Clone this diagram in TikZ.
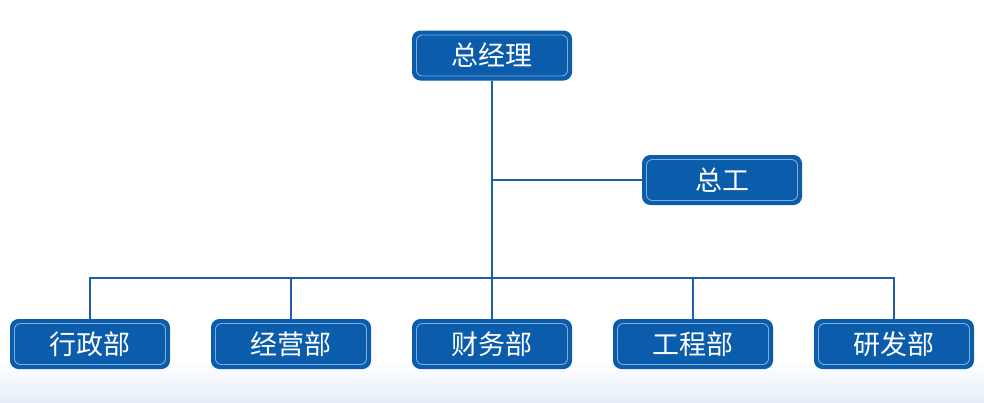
\documentclass[tikz,border=0pt]{standalone}
\usepackage{fontspec}
\newfontfamily\cjk{Noto Sans CJK SC}
\usetikzlibrary{calc}
\definecolor{boxblue}{HTML}{0B5CAB}
\definecolor{innerline}{HTML}{7FAEDC}
\definecolor{linkblue}{HTML}{1C5FA8}
\definecolor{bgblue}{HTML}{E6EFF9}
\tikzset{
  orgbox/.style={draw=boxblue, line width=1pt, fill=boxblue, rounded corners=8pt,
    minimum width=159pt, minimum height=49pt, inner sep=0pt, text=white,
    font=\cjk\fontsize{27}{27}\selectfont},
  innerframe/.style={draw=innerline, line width=0.9pt, rounded corners=6pt},
  link/.style={draw=linkblue, line width=1.6pt}
}
\begin{document}
\begin{tikzpicture}[x=1pt,y=-1pt]
\useasboundingbox (0,0) rectangle (984,402);
\shade[top color=white, bottom color=bgblue] (0,360) rectangle (984,402);
\node[orgbox] (gm) at (492,55.5) {总经理};
\node[orgbox] (zg) at (722,180) {总工};
\node[orgbox] (d1) at (90,344) {行政部};
\node[orgbox] (d2) at (291,344) {经营部};
\node[orgbox] (d3) at (492,344) {财务部};
\node[orgbox] (d4) at (693,344) {工程部};
\node[orgbox] (d5) at (894,344) {研发部};
\foreach \n in {gm,zg,d1,d2,d3,d4,d5}
  \path[innerframe] ($(\n.south west)+(4.5,-4.5)$) rectangle ($(\n.north east)+(-4.5,4.5)$);
\coordinate (hub) at (492,278);
\coordinate (mid) at (492,180);
\path[link] (gm.south) -- (hub);
\path[link] (mid) -- (zg.west);
\path[link] (d1.north) |- (hub) -| (d5.north);
\path[link] (d2.north) -- (d2.north |- hub);
\path[link] (d4.north) -- (d4.north |- hub);
\path[link] (hub) -- (d3.north);
\end{tikzpicture}
\end{document}
